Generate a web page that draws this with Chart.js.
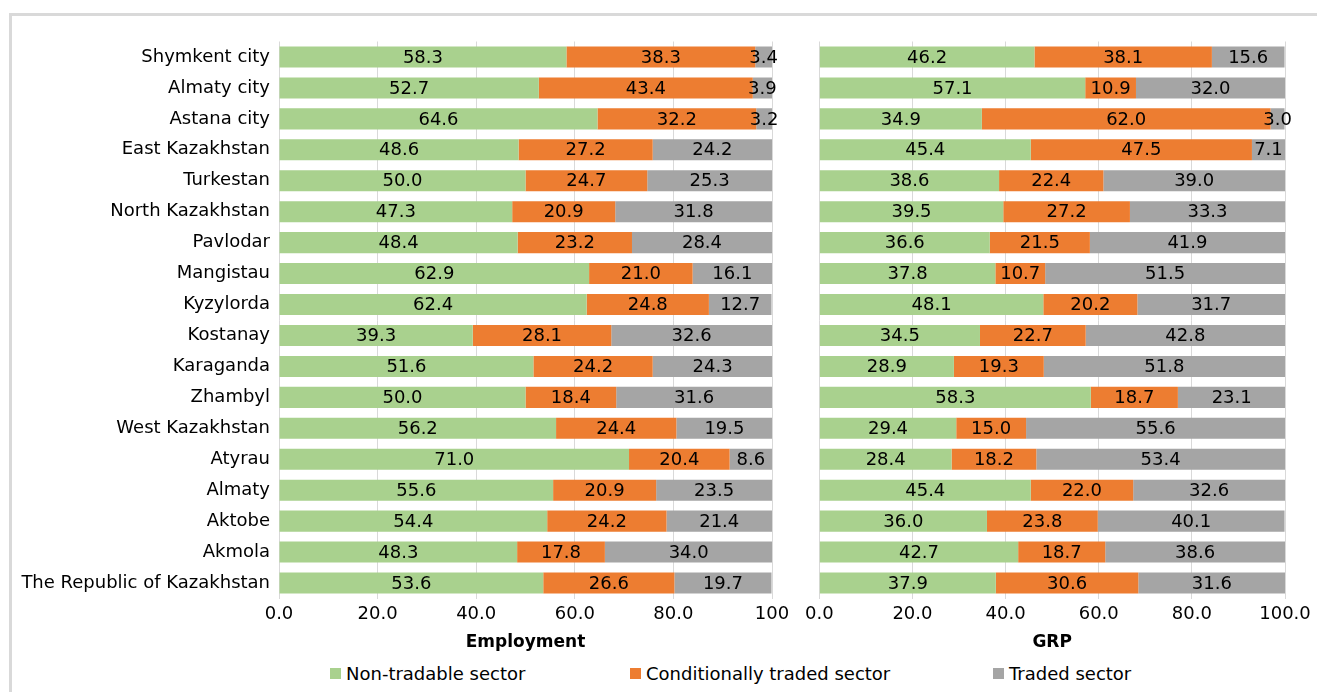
<!DOCTYPE html>
<html>
<head>
<meta charset="utf-8">
<script src="https://cdn.jsdelivr.net/npm/chart.js@4.4.1/dist/chart.umd.min.js"></script>
<style>
  body { margin: 0; background: #fff; width: 1317px; height: 692px; overflow: hidden; position: relative; font-family: "DejaVu Sans", Verdana, sans-serif; }
  .frame { position: absolute; left: 9px; top: 13px; width: 1400px; height: 800px; border-top: 3px solid #d9d9d9; border-left: 3px solid #d9d9d9; }
  #empChart { position: absolute; left: 0; top: 0; }
  #grpChart { position: absolute; left: 800px; top: 0; }
  .legend { position: absolute; top: 663px; font-size: 18px; color: #000; white-space: nowrap; line-height: 22px; }
  .legend i { display: inline-block; width: 11px; height: 11px; margin-right: 5px; vertical-align: 1px; }
</style>
</head>
<body>
<div class="frame"></div>
<canvas id="empChart" width="800" height="660"></canvas>
<canvas id="grpChart" width="517" height="660"></canvas>
<div class="legend" style="left:330px"><i style="background:#a9d18e"></i>Non-tradable sector</div>
<div class="legend" style="left:630px"><i style="background:#ed7d31"></i>Conditionally traded sector</div>
<div class="legend" style="left:993px"><i style="background:#a5a5a5"></i>Traded sector</div>
<script>
const regions = ["Shymkent city", "Almaty city", "Astana city", "East Kazakhstan", "Turkestan",
  "North Kazakhstan", "Pavlodar", "Mangistau", "Kyzylorda", "Kostanay", "Karaganda", "Zhambyl",
  "West Kazakhstan", "Atyrau", "Almaty", "Aktobe", "Akmola", "The Republic of Kazakhstan"];

const seriesNames = ["Non-tradable sector", "Conditionally traded sector", "Traded sector"];
const seriesColors = ["#a9d18e", "#ed7d31", "#a5a5a5"];

// Employment shares, %
const empNonTradable = [58.3, 52.7, 64.6, 48.6, 50.0, 47.3, 48.4, 62.9, 62.4, 39.3, 51.6, 50.0, 56.2, 71.0, 55.6, 54.4, 48.3, 53.6];
const empConditional = [38.3, 43.4, 32.2, 27.2, 24.7, 20.9, 23.2, 21.0, 24.8, 28.1, 24.2, 18.4, 24.4, 20.4, 20.9, 24.2, 17.8, 26.6];
const empTraded = [3.4, 3.9, 3.2, 24.2, 25.3, 31.8, 28.4, 16.1, 12.7, 32.6, 24.3, 31.6, 19.5, 8.6, 23.5, 21.4, 34.0, 19.7];

// GRP shares, %
const grpNonTradable = [46.2, 57.1, 34.9, 45.4, 38.6, 39.5, 36.6, 37.8, 48.1, 34.5, 28.9, 58.3, 29.4, 28.4, 45.4, 36.0, 42.7, 37.9];
const grpConditional = [38.1, 10.9, 62.0, 47.5, 22.4, 27.2, 21.5, 10.7, 20.2, 22.7, 19.3, 18.7, 15.0, 18.2, 22.0, 23.8, 18.7, 30.6];
const grpTraded = [15.6, 32.0, 3.0, 7.1, 39.0, 33.3, 41.9, 51.5, 31.7, 42.8, 51.8, 23.1, 55.6, 53.4, 32.6, 40.1, 38.6, 31.6];

const xTicks = [0, 20, 40, 60, 80, 100];

const FONT = "'DejaVu Sans', Verdana, sans-serif";
const FONT_SIZE = 18;

// writes each segment's value in the middle of the segment
const valueLabels = {
  id: "valueLabels",
  afterDatasetsDraw(chart) {
    const ctx = chart.ctx;
    ctx.save();
    ctx.font = FONT_SIZE + "px " + FONT;
    ctx.fillStyle = "#000";
    ctx.textAlign = "center";
    ctx.textBaseline = "middle";
    chart.data.datasets.forEach((ds, i) => {
      chart.getDatasetMeta(i).data.forEach((bar, j) => {
        const p = bar.getCenterPoint();
        ctx.fillText(ds.data[j].toFixed(1), p.x, p.y + 1);
      });
    });
    ctx.restore();
  }
};

function makeDatasets(a, b, c) {
  return [a, b, c].map((vals, i) => ({
    label: seriesNames[i],
    data: vals,
    backgroundColor: seriesColors[i],
    borderWidth: 0,
    barPercentage: 0.68,
    categoryPercentage: 1
  }));
}

function makeChart(id, datasets, title, labelWidth, pad, fmtTick) {
  return new Chart(document.getElementById(id), {
    type: "bar",
    data: { labels: regions, datasets: datasets },
    plugins: [valueLabels],
    options: {
      indexAxis: "y",
      responsive: false,
      animation: false,
      devicePixelRatio: 1,
      layout: { padding: pad },
      plugins: { legend: { display: false }, tooltip: { enabled: false } },
      scales: {
        x: {
          stacked: true,
          min: 0,
          max: 100,
          afterBuildTicks: s => { s.ticks = xTicks.map(v => ({ value: v })); },
          afterFit: s => { s.height = 61.5; },
          grid: { color: "#d9d9d9", drawTicks: false },
          border: { display: false },
          ticks: {
            padding: 5,
            maxRotation: 0,
            minRotation: 0,
            color: "#000",
            font: { family: FONT, size: FONT_SIZE },
            callback: fmtTick
          },
          title: {
            display: true,
            text: title,
            color: "#000",
            font: { family: FONT, size: 17, weight: "bold" },
            padding: { top: 0, bottom: 7 }
          }
        },
        y: {
          stacked: true,
          display: labelWidth > 0,
          afterFit: s => { s.width = labelWidth; },
          grid: { display: false },
          border: { display: false },
          ticks: { padding: 1, color: "#000", font: { family: FONT, size: FONT_SIZE } }
        }
      }
    }
  });
}

makeChart("empChart", makeDatasets(empNonTradable, empConditional, empTraded), "Employment", 279,
  { left: 0, right: 28, top: 41.5, bottom: 0 }, v => v === 100 ? "100" : v.toFixed(1));

makeChart("grpChart", makeDatasets(grpNonTradable, grpConditional, grpTraded), "GRP", 0,
  { left: 19, right: 32, top: 41.5, bottom: 0 }, v => v.toFixed(1));
</script>
</body>
</html>
